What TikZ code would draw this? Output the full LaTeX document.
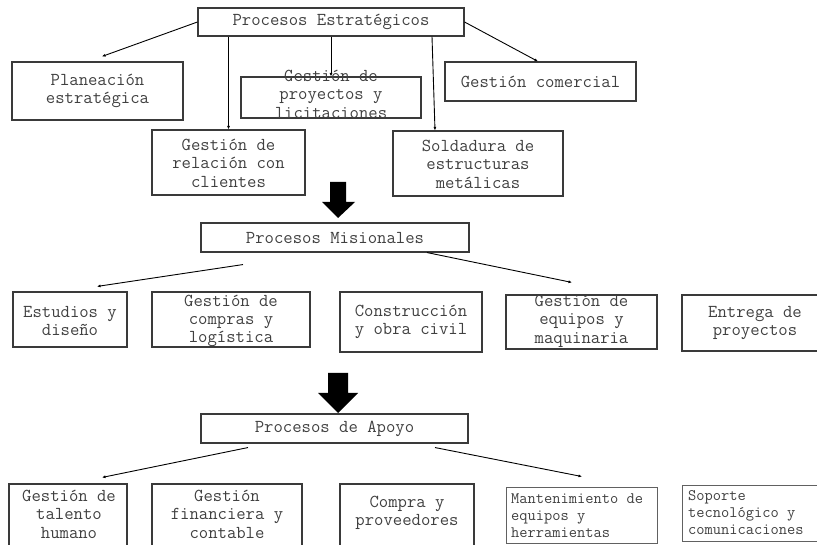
\documentclass[tikz,border=0pt]{standalone}
\usepackage{fontspec}
\usetikzlibrary{calc,arrows.meta}
\definecolor{boxgray}{HTML}{3A3A3A}
\definecolor{txtgray}{HTML}{404040}
\begin{document}
\begin{tikzpicture}[x=1pt,y=-1pt,
  box/.style={draw=boxgray, line width=1.1pt, inner sep=0pt},
  txt/.style={text=txtgray, align=center, font=\ttfamily\fontsize{18.2}{18.4}\selectfont, inner sep=0pt},
  txts/.style={text=txtgray, align=left, font=\ttfamily\fontsize{16}{17}\selectfont, inner sep=0pt},
  con/.style={line width=0.9pt, -{Latex[length=3.5pt,width=3pt]}},
  bigarrow/.style={fill=black}]
\useasboundingbox (0,0) rectangle (817,545);

% Level 1
\node[box, minimum width=266pt, minimum height=28pt] (est) at (331,22) {};
\node[txt] (estT) at (est) {Procesos Estratégicos};

\node[box, minimum width=171pt, minimum height=58pt] (plan) at (97.5,91) {};
\node[txt] (planT) at (plan) {Planeación\\estratégica};

\node[box, minimum width=180pt, minimum height=41pt] (proy) at (331,97.5) {};
\node[txt] (proyT) at (331,94) {Gestión de\\proyectos y\\licitaciones};

\node[box, minimum width=191pt, minimum height=39pt] (com) at (540.5,81.5) {};
\node[txt] (comT) at (com) {Gestión comercial};

\node[box, minimum width=153pt, minimum height=65pt] (rel) at (228.5,162.5) {};
\node[txt] (relT) at (228.5,163) {Gestión de\\relación con\\clientes};

\node[box, minimum width=170pt, minimum height=65pt] (sold) at (478,163.5) {};
\node[txt] (soldT) at (478,164) {Soldadura de\\estructuras\\metálicas};

\draw[con] (est.west) -- ($(plan.north)+(4.5,-5)$);
\draw[con] (est.south -| rel.north) -- (rel.north);
\draw[con] (est.south) -- (proy.north);
\draw[con] ($(est.south)+(101,0)$) -- ($(sold.north)+(-43,0)$);
\draw[con] (est.east) -- ($(com.north)+(-2.5,0)$);

% big arrow 1
\fill[bigarrow] (330,182) -- (346,182) -- (346,202) -- (355,202) -- (338,218) -- (322,202) -- (330,202) -- cycle;

% Level 2
\node[box, minimum width=268pt, minimum height=29pt] (mis) at (335,237.5) {};
\node[txt] (misT) at (mis) {Procesos Misionales};

\node[box, minimum width=114pt, minimum height=55pt] (estu) at (70,319.5) {};
\node[txt] (estuT) at (70,321) {Estudios y\\diseño};

\node[box, minimum width=158pt, minimum height=55pt] (comp) at (231,319.5) {};
\node[txt] (compT) at (231,321) {Gestión de\\compras y\\logística};

\node[box, minimum width=142pt, minimum height=60pt] (cons) at (411,322) {};
\node[txt] (consT) at (411,322) {Construcción\\y obra civil};

\node[box, minimum width=151pt, minimum height=54pt] (equi) at (581.5,322) {};
\node[txt] (equiT) at (581.5,321) {Gestión de\\equipos y\\maquinaria};

\node[box, minimum width=146pt, minimum height=56pt] (entr) at (755,323) {};
\node[txt] (entrT) at (755,323) {Entrega de\\proyectos};

\draw[con] ($(mis.south)+(-92,12)$) -- ($(estu.north)+(27,-5)$);
\draw[con] ($(mis.south)+(92,0)$) -- ($(equi.north)+(-9.5,-12)$);

% big arrow 2
\fill[bigarrow] (328,373) -- (348,373) -- (348,393) -- (358,393) -- (338,413) -- (318,393) -- (328,393) -- cycle;

% Level 3
\node[box, minimum width=267pt, minimum height=29pt] (apo) at (334.5,428.5) {};
\node[txt] (apoT) at (apo) {Procesos de Apoyo};

\node[box, minimum width=118pt, minimum height=70pt] (tal) at (68,519) {};
\node[txt] (talT) at (69,514) {Gestión de\\talento\\humano};

\node[box, minimum width=150pt, minimum height=70pt] (fin) at (227,519) {};
\node[txt] (finT) at (227,514) {Gestión\\financiera y\\contable};

\node[box, minimum width=134pt, minimum height=70pt] (cpr) at (407,519) {};
\node[txt] (cprT) at (407,513) {Compra y\\proveedores};

\node[box, draw=boxgray!80, line width=0.9pt, minimum width=151pt, minimum height=56pt] (man) at (581.5,515) {};
\node[txts, anchor=west] (manT) at (511,516) {Mantenimiento de\\equipos y\\herramientas};

\node[box, draw=boxgray!80, line width=0.9pt, minimum width=136pt, minimum height=56pt] (sop) at (750,513) {};
\node[txts, anchor=west] (sopT) at (688,513) {Soporte\\tecnológico y\\comunicaciones};

\draw[con] ($(apo.south)+(-86.5,4)$) -- ($(tal.north)+(34,-6)$);
\draw[con] ($(apo.south)+(100.5,4)$) -- ($(man.north)+(0.5,-10)$);
\end{tikzpicture}
\end{document}
